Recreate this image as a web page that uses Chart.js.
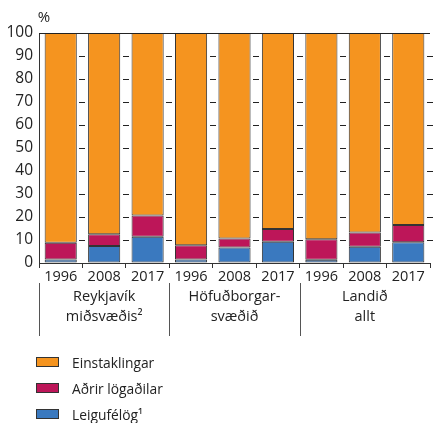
<!DOCTYPE html>
<html>
<head>
<meta charset="utf-8">
<script src="https://cdn.jsdelivr.net/npm/chart.js@4/dist/chart.umd.min.js"></script>
<style>
  body { margin:0; background:#fff; font-family:"Open Sans", sans-serif; }
  #wrap { position:relative; width:434px; height:423px; }
  #legend { position:absolute; left:36px; top:349px; color:#222; font-size:13.8px; }
  #legend div { height:26px; display:flex; align-items:center; }
  #legend span.box { display:inline-block; width:21px; height:8px; border:1px solid #333; margin-right:13px; }
</style>
</head>
<body>
<div id="wrap">
  <canvas id="c" width="434" height="423"></canvas>
  <div id="legend"></div>
</div>
<script>
// ---------------- data ----------------
const years = ["1996","2008","2017","1996","2008","2017","1996","2008","2017"];
const groups = [["Reykjavík","miðsvæðis²"], ["Höfuðborgar-","svæðið"], ["Landið","allt"]];
const yTicks = [0,10,20,30,40,50,60,70,80,90,100];

const leigufelog   = [1.5, 7.4, 11.4, 1.5, 6.7, 9.2, 1.4, 7.1, 9.0];
const adrir        = [7.3, 5.1, 9.2, 6.2, 4.0, 5.6, 8.9, 6.2, 7.5];
const einstaklingar = [91.2, 87.5, 79.4, 92.3, 89.3, 85.2, 89.7, 86.7, 83.5];

const seriesNames = ["Leigufélög¹", "Aðrir lögaðilar", "Einstaklingar"];
const colors = ["#3a79bf", "#bd1659", "#f5941f"];

// ---------------- extra drawing ----------------
const extras = {
  id: "extras",
  afterDatasetsDraw(chart) {
    const { ctx, chartArea: a, scales: { x, y } } = chart;
    ctx.save();
    ctx.strokeStyle = "#222";
    ctx.lineWidth = 1;

    // top line
    ctx.beginPath();
    ctx.moveTo(a.left, a.top + 0.5);
    ctx.lineTo(a.right, a.top + 0.5);
    ctx.stroke();

    // short ticks at category boundaries
    const half = (x.getPixelForValue(1) - x.getPixelForValue(0)) / 2;
    for (let i = 0; i < years.length; i++) {
      const bx = Math.round(x.getPixelForValue(i) + half);
      yTicks.forEach(v => {
        if (v === 0 || v === 100) return;
        const py = Math.round(y.getPixelForValue(v)) + 0.5;
        ctx.beginPath();
        ctx.moveTo(bx - 3, py);
        ctx.lineTo(bx + 3, py);
        ctx.stroke();
      });
    }

    // group labels + separators
    ctx.fillStyle = "#222";
    ctx.font = '14.5px "Open Sans"';
    ctx.textAlign = "center";
    ctx.textBaseline = "middle";
    groups.forEach((g, k) => {
      const cx = x.getPixelForValue(k * 3 + 1);
      ctx.fillText(g[0], cx, 297);
      ctx.fillText(g[1], cx, 317);
      const sx = Math.round(x.getPixelForValue(k * 3) - half) + 0.5;
      ctx.strokeStyle = "#555";
      ctx.beginPath();
      ctx.moveTo(sx, 283);
      ctx.lineTo(sx, 336);
      ctx.stroke();
    });

    // unit
    ctx.font = '15px "Open Sans"';
    ctx.fillText("%", 44, 18);
    ctx.restore();
  }
};

// ---------------- chart ----------------
const values = [leigufelog, adrir, einstaklingar];

new Chart(document.getElementById("c"), {
  type: "bar",
  data: {
    labels: years,
    datasets: values.map((d, i) => ({
      label: seriesNames[i],
      data: d,
      backgroundColor: colors[i],
      borderColor: "#333",
      borderWidth: 1,
      borderSkipped: false,
      barPercentage: 0.74,
      categoryPercentage: 1
    }))
  },
  options: {
    responsive: false,
    animation: false,
    devicePixelRatio: 1,
    layout: { padding: { top: 33, right: 4, left: 0, bottom: 0 } },
    plugins: { legend: { display: false }, tooltip: { enabled: false } },
    scales: {
      x: {
        stacked: true,
        afterFit: s => { s.height = 160; },
        grid: { drawOnChartArea: false, tickLength: 5, color: "#333", offset: true },
        border: { color: "#333", width: 1 },
        ticks: { color: "#222", font: { family: "Open Sans", size: 14.5 }, padding: 0, maxRotation: 0, autoSkip: false }
      },
      y: {
        stacked: true,
        min: 0,
        max: 100,
        afterFit: s => { s.width = 39; },
        afterBuildTicks: s => { s.ticks = yTicks.map(v => ({ value: v })); },
        grid: { drawOnChartArea: false, drawTicks: false },
        border: { color: "#333", width: 1 },
        ticks: { color: "#222", font: { family: "Open Sans", size: 15.5 }, padding: 6 }
      }
    }
  },
  plugins: [extras]
});

// legend (top to bottom: Einstaklingar, Aðrir lögaðilar, Leigufélög)
const leg = document.getElementById("legend");
[2, 1, 0].forEach(i => {
  const row = document.createElement("div");
  const box = document.createElement("span");
  box.className = "box";
  box.style.background = colors[i];
  row.appendChild(box);
  row.appendChild(document.createTextNode(seriesNames[i]));
  leg.appendChild(row);
});
</script>
</body>
</html>
